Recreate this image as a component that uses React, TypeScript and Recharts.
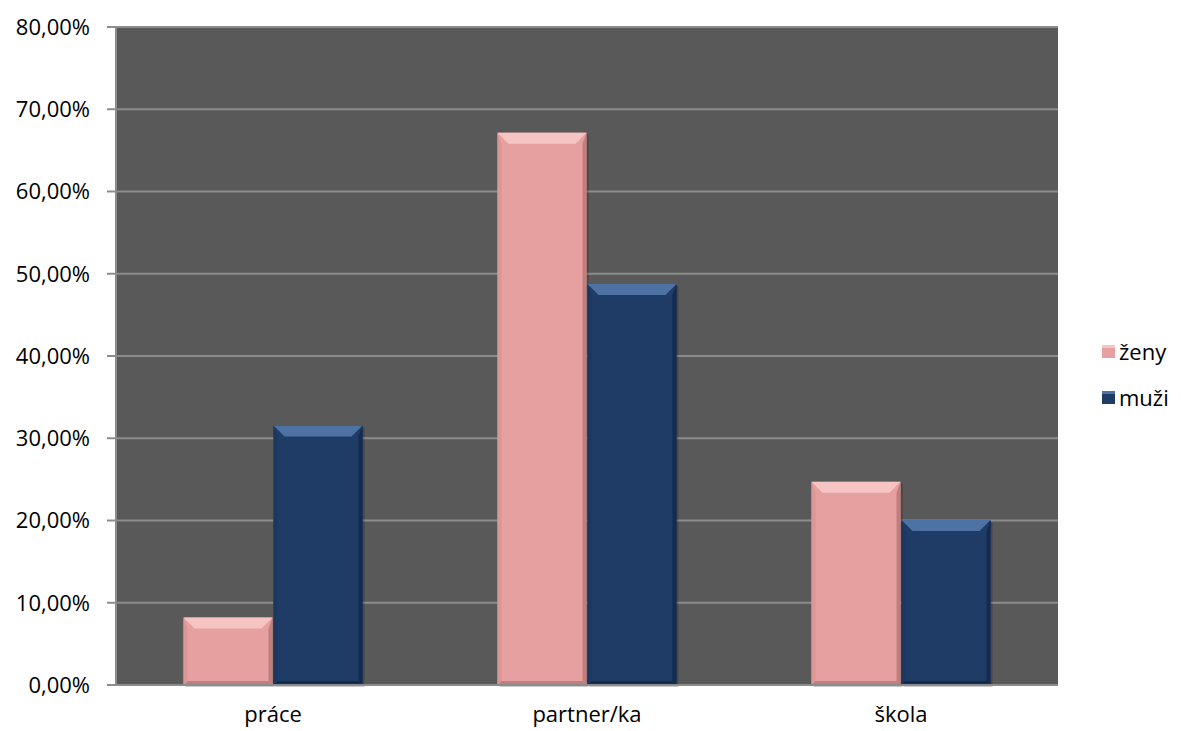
import React from "react";
import { BarChart, Bar, XAxis, YAxis, CartesianGrid } from "recharts";

const categories = ["práce", "partner/ka", "škola"];
const zeny = [8.2, 67.15, 24.7];
const muzi = [31.55, 48.75, 20.05];
const yTicks = [0, 10, 20, 30, 40, 50, 60, 70, 80];
const seriesNames = ["ženy", "muži"];

const data = categories.map((c, i) => ({ cat: c, pos: i, zeny: zeny[i], muzi: muzi[i] }));

const FONT = "'Open Sans', sans-serif";
const FS = 22;

const palette: Record<string, { main: string; top: string; side: string; dark: string }> = {
  zeny: { main: "#E5A09F", top: "#F6C4C3", side: "#DC9695", dark: "#C07F7E" },
  muzi: { main: "#1E3C65", top: "#4E72A3", side: "#1B385F", dark: "#132B4D" },
};

const makeShape = (key: string) => (props: any) => {
  const { x, y, width, height } = props;
  if (!height || height <= 0) return <g />;
  const c = palette[key];
  const b = Math.min(11, height / 2, width / 2);
  const s = Math.min(4, width / 2);
  return (
    <g>
      <rect x={x + 2} y={y + 2} width={width} height={height} fill="rgba(0,0,0,0.2)" />
      <rect x={x} y={y} width={width} height={height} fill={c.main} />
      <polygon points={`${x},${y} ${x + width},${y} ${x + width - b},${y + b} ${x + b},${y + b}`} fill={c.top} />
      <polygon points={`${x},${y} ${x + s},${y + b} ${x + s},${y + height - s} ${x},${y + height}`} fill={c.side} />
      <polygon points={`${x + width},${y} ${x + width - s},${y + b} ${x + width - s},${y + height - s} ${x + width},${y + height}`} fill={c.dark} />
      <polygon points={`${x},${y + height} ${x + s},${y + height - s} ${x + width - s},${y + height - s} ${x + width},${y + height}`} fill={c.dark} />
    </g>
  );
};

export default function App() {
  return (
    <div style={{ position: "absolute", left: 0, top: 0, width: 1181, height: 731, background: "#fff" }}>
      <BarChart
        width={1181}
        height={731}
        data={data}
        margin={{ top: 27, right: 123, bottom: 0, left: 0 }}
        barCategoryGap="21.5%"
        barGap={1}
      >
        <CartesianGrid vertical={false} fill="#595959" stroke="#8C8C8C" strokeWidth={2} />
        <XAxis
          xAxisId="cat"
          dataKey="cat"
          height={46}
          axisLine={{ stroke: "#8C8C8C", strokeWidth: 2 }}
          tickLine={false}
          tick={{ fill: "#000", fontSize: FS, fontFamily: FONT }}
          tickMargin={15}
        />
        <XAxis
          xAxisId="edge"
          type="number"
          domain={[0, 3]}
          ticks={[0, 1, 2, 3]}
          height={0}
          axisLine={false}
          tickLine={{ stroke: "#8C8C8C", strokeWidth: 2 }}
          tickSize={8}
          tick={false}
          allowDataOverflow
        />
        <YAxis
          width={116}
          domain={[0, 80]}
          ticks={yTicks}
          interval={0}
          axisLine={{ stroke: "#8C8C8C", strokeWidth: 2 }}
          tickLine={{ stroke: "#8C8C8C", strokeWidth: 2 }}
          tickSize={9}
          tickMargin={17}
          tickFormatter={(v: number) => `${v.toFixed(2).replace(".", ",")}%`}
          tick={{ fill: "#000", fontSize: FS, fontFamily: FONT }}
        />
        <Bar xAxisId="cat" dataKey="zeny" name="ženy" fill={palette.zeny.main} shape={makeShape("zeny")} isAnimationActive={false} />
        <Bar xAxisId="cat" dataKey="muzi" name="muži" fill={palette.muzi.main} shape={makeShape("muzi")} isAnimationActive={false} />
      </BarChart>
      <div style={{ position: "absolute", left: 1102, top: 328, fontFamily: FONT, fontSize: FS, color: "#000" }}>
        {seriesNames.map((n, i) => (
          <div key={n} style={{ display: "flex", alignItems: "center", height: 46 }}>
            <div
              style={{
                width: 13,
                height: 13,
                background: i === 0 ? palette.zeny.main : palette.muzi.main,
                borderTop: `3px solid ${i === 0 ? palette.zeny.top : palette.muzi.top}`,
                boxSizing: "border-box",
                marginRight: 4,
              }}
            />
            <span>{n}</span>
          </div>
        ))}
      </div>
    </div>
  );
}
